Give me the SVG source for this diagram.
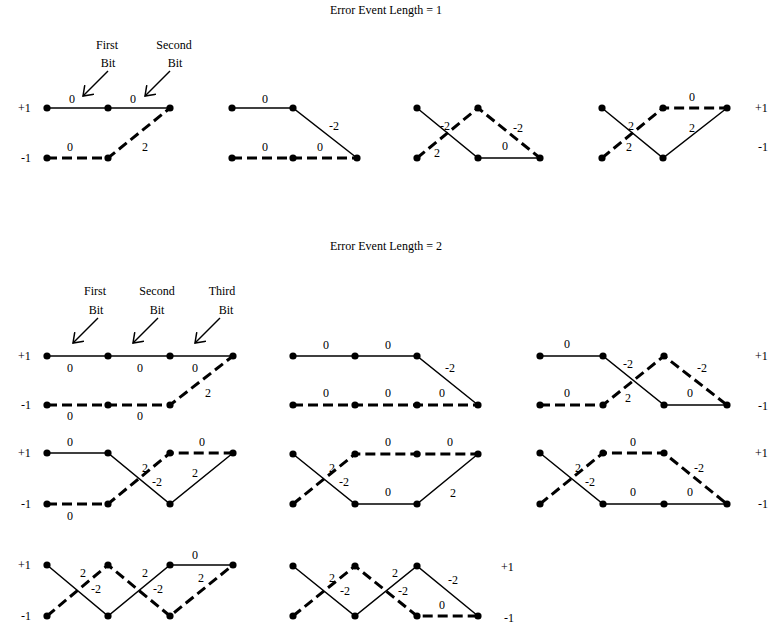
<svg xmlns="http://www.w3.org/2000/svg" width="773" height="630" viewBox="0 0 773 630">
  <style>
    text { font-family: "Liberation Serif", "Times New Roman", serif; font-size: 12px; fill: #000; }
    .c { text-anchor: middle; }
    .s { stroke: #000; stroke-width: 1.5; fill: none; }
    .d { stroke: #000; stroke-width: 3; stroke-dasharray: 10 5; fill: none; }
    .a { stroke: #000; stroke-width: 1.5; fill: none; marker-end: url(#head); }
    .n { fill: #000; }
  </style>
  <defs>
    <marker id="head" markerUnits="userSpaceOnUse" markerWidth="14" markerHeight="14" refX="0" refY="0" viewBox="-10 -7 12 14" orient="auto">
      <path d="M-9,-6.5 L0,0 L-9,6.5" stroke="#000" stroke-width="1.5" fill="none"/>
    </marker>
    <circle id="dot" r="3.6" class="n"/>
  </defs>
  <rect width="773" height="630" fill="#fff"/>

  <!-- ===== Error event length 1 ===== -->
  <text class="c" x="386" y="14">Error Event Length = 1</text>
  <g id="levels-top">
    <text x="18" y="112">+1</text>
    <text x="21" y="162">-1</text>
    <text x="755" y="112">+1</text>
    <text x="758" y="151">-1</text>
  </g>
  <g id="bit-markers-top">
    <text class="c" x="107" y="49">First</text>
    <text class="c" x="108" y="67">Bit</text>
    <text class="c" x="174" y="49">Second</text>
    <text class="c" x="175" y="67">Bit</text>
    <line class="a" x1="108" y1="71" x2="83" y2="96"/>
    <line class="a" x1="170" y1="71" x2="145" y2="96"/>
  </g>

  <g id="e1-a">
    <g class="connectors">
      <path class="s" d="M47,108 H170"/>
      <path class="d" d="M47,158 H108 L170,108"/>
    </g>
    <use href="#dot" x="47" y="108"/><use href="#dot" x="108" y="108"/><use href="#dot" x="170" y="108"/>
    <use href="#dot" x="47" y="158"/><use href="#dot" x="108" y="158"/>
    <text class="c" x="72" y="103">0</text><text class="c" x="133" y="103">0</text>
    <text class="c" x="70" y="151">0</text><text class="c" x="145" y="151">2</text>
  </g>

  <g id="e1-b">
    <g class="connectors">
      <path class="s" d="M232,108 H293 L357,158"/>
      <path class="d" d="M232,158 H357"/>
    </g>
    <use href="#dot" x="232" y="108"/><use href="#dot" x="293" y="108"/>
    <use href="#dot" x="232" y="158"/><use href="#dot" x="293" y="158"/><use href="#dot" x="357" y="158"/>
    <text class="c" x="265" y="103">0</text><text class="c" x="334" y="130">-2</text>
    <text class="c" x="265" y="151">0</text><text class="c" x="320" y="151">0</text>
  </g>

  <g id="e1-c">
    <g class="connectors">
      <path class="s" d="M417,108 L478,158 H540"/>
      <path class="d" d="M417,158 L478,108 L540,158"/>
    </g>
    <use href="#dot" x="417" y="108"/><use href="#dot" x="478" y="108"/>
    <use href="#dot" x="417" y="158"/><use href="#dot" x="478" y="158"/><use href="#dot" x="540" y="158"/>
    <text class="c" x="445" y="130">-2</text><text class="c" x="518" y="132">-2</text>
    <text class="c" x="437" y="157">2</text><text class="c" x="505" y="150">0</text>
  </g>

  <g id="e1-d">
    <g class="connectors">
      <path class="s" d="M602,108 L663,158 L727,108"/>
      <path class="d" d="M602,158 L663,108 H727"/>
    </g>
    <use href="#dot" x="602" y="108"/><use href="#dot" x="663" y="108"/><use href="#dot" x="727" y="108"/>
    <use href="#dot" x="602" y="158"/><use href="#dot" x="663" y="158"/>
    <text class="c" x="692" y="101">0</text><text class="c" x="631" y="130">2</text>
    <text class="c" x="692" y="132">2</text><text class="c" x="629" y="151">2</text>
  </g>

  <!-- ===== Error event length 2 ===== -->
  <text class="c" x="386" y="250">Error Event Length = 2</text>
  <g id="levels-bottom">
    <text x="18" y="360">+1</text><text x="21" y="409">-1</text>
    <text x="18" y="457">+1</text><text x="21" y="508">-1</text>
    <text x="18" y="569">+1</text><text x="21" y="620">-1</text>
    <text x="755" y="360">+1</text><text x="758" y="410">-1</text>
    <text x="755" y="457">+1</text><text x="758" y="508">-1</text>
    <text x="501" y="571">+1</text><text x="504" y="622">-1</text>
  </g>
  <g id="bit-markers-bottom">
    <text class="c" x="95" y="295">First</text><text class="c" x="96" y="314">Bit</text>
    <text class="c" x="157" y="295">Second</text><text class="c" x="157" y="314">Bit</text>
    <text class="c" x="222" y="295">Third</text><text class="c" x="226" y="314">Bit</text>
    <line class="a" x1="98" y1="318" x2="73" y2="343"/>
    <line class="a" x1="158" y1="318" x2="133" y2="343"/>
    <line class="a" x1="220" y1="318" x2="195" y2="343"/>
  </g>

  <g id="e2-a1">
    <g class="connectors">
      <path class="s" d="M47,356 H233"/>
      <path class="d" d="M47,405 H170 L233,356"/>
    </g>
    <use href="#dot" x="47" y="356"/><use href="#dot" x="108" y="356"/><use href="#dot" x="170" y="356"/><use href="#dot" x="233" y="356"/>
    <use href="#dot" x="47" y="405"/><use href="#dot" x="108" y="405"/><use href="#dot" x="170" y="405"/>
    <text class="c" x="70" y="372">0</text><text class="c" x="140" y="372">0</text><text class="c" x="195" y="372">0</text>
    <text class="c" x="208" y="397">2</text>
    <text class="c" x="70" y="420">0</text><text class="c" x="140" y="420">0</text>
  </g>

  <g id="e2-a2">
    <g class="connectors">
      <path class="s" d="M293,356 H417 L478,405"/>
      <path class="d" d="M293,405 H478"/>
    </g>
    <use href="#dot" x="293" y="356"/><use href="#dot" x="355" y="356"/><use href="#dot" x="417" y="356"/>
    <use href="#dot" x="293" y="405"/><use href="#dot" x="355" y="405"/><use href="#dot" x="417" y="405"/><use href="#dot" x="478" y="405"/>
    <text class="c" x="326" y="349">0</text><text class="c" x="388" y="349">0</text><text class="c" x="450" y="372">-2</text>
    <text class="c" x="326" y="397">0</text><text class="c" x="388" y="397">0</text><text class="c" x="442" y="397">0</text>
  </g>

  <g id="e2-a3">
    <g class="connectors">
      <path class="s" d="M540,356 H603 L664,405 H727"/>
      <path class="d" d="M540,405 H603 L664,356 L727,405"/>
    </g>
    <use href="#dot" x="540" y="356"/><use href="#dot" x="603" y="356"/><use href="#dot" x="664" y="356"/>
    <use href="#dot" x="540" y="405"/><use href="#dot" x="603" y="405"/><use href="#dot" x="664" y="405"/><use href="#dot" x="727" y="405"/>
    <text class="c" x="567" y="348">0</text><text class="c" x="628" y="368">-2</text><text class="c" x="702" y="372">-2</text>
    <text class="c" x="567" y="397">0</text><text class="c" x="628" y="402">2</text><text class="c" x="690" y="397">0</text>
  </g>

  <g id="e2-b1">
    <g class="connectors">
      <path class="s" d="M47,453 H108 L170,504 L233,453"/>
      <path class="d" d="M47,504 H108 L170,453 H233"/>
    </g>
    <use href="#dot" x="47" y="453"/><use href="#dot" x="108" y="453"/><use href="#dot" x="170" y="453"/><use href="#dot" x="233" y="453"/>
    <use href="#dot" x="47" y="504"/><use href="#dot" x="108" y="504"/><use href="#dot" x="170" y="504"/>
    <text class="c" x="70" y="446">0</text><text class="c" x="202" y="446">0</text>
    <text class="c" x="145" y="472">2</text><text class="c" x="157" y="486">-2</text>
    <text class="c" x="195" y="477">2</text><text class="c" x="70" y="520">0</text>
  </g>

  <g id="e2-b2">
    <g class="connectors">
      <path class="s" d="M293,454 L355,504 H417 L478,454"/>
      <path class="d" d="M293,504 L355,454 H478"/>
    </g>
    <use href="#dot" x="293" y="454"/><use href="#dot" x="355" y="454"/><use href="#dot" x="417" y="454"/><use href="#dot" x="478" y="454"/>
    <use href="#dot" x="293" y="504"/><use href="#dot" x="355" y="504"/><use href="#dot" x="417" y="504"/>
    <text class="c" x="388" y="446">0</text><text class="c" x="450" y="446">0</text>
    <text class="c" x="332" y="472">2</text><text class="c" x="344" y="486">-2</text>
    <text class="c" x="388" y="496">0</text><text class="c" x="453" y="497">2</text>
  </g>

  <g id="e2-b3">
    <g class="connectors">
      <path class="s" d="M540,453 L603,504 H727"/>
      <path class="d" d="M540,504 L603,453 H664 L727,504"/>
    </g>
    <use href="#dot" x="540" y="453"/><use href="#dot" x="603" y="453"/><use href="#dot" x="664" y="453"/>
    <use href="#dot" x="540" y="504"/><use href="#dot" x="603" y="504"/><use href="#dot" x="664" y="504"/><use href="#dot" x="727" y="504"/>
    <text class="c" x="633" y="446">0</text><text class="c" x="699" y="472">-2</text>
    <text class="c" x="578" y="472">2</text><text class="c" x="590" y="486">-2</text>
    <text class="c" x="633" y="496">0</text><text class="c" x="690" y="496">0</text>
  </g>

  <g id="e2-c1">
    <g class="connectors">
      <path class="s" d="M47,565 L108,616 L170,565 H233"/>
      <path class="d" d="M47,616 L108,565 L170,616 L233,565"/>
    </g>
    <use href="#dot" x="47" y="565"/><use href="#dot" x="108" y="565"/><use href="#dot" x="170" y="565"/><use href="#dot" x="233" y="565"/>
    <use href="#dot" x="47" y="616"/><use href="#dot" x="108" y="616"/><use href="#dot" x="170" y="616"/>
    <text class="c" x="195" y="559">0</text>
    <text class="c" x="83" y="577">2</text><text class="c" x="96" y="593">-2</text>
    <text class="c" x="145" y="577">2</text><text class="c" x="158" y="593">-2</text>
    <text class="c" x="201" y="582">2</text>
  </g>

  <g id="e2-c2">
    <g class="connectors">
      <path class="s" d="M293,566 L355,616 L417,566 L478,616"/>
      <path class="d" d="M293,616 L355,566 L417,616 H478"/>
    </g>
    <use href="#dot" x="293" y="566"/><use href="#dot" x="355" y="566"/><use href="#dot" x="417" y="566"/>
    <use href="#dot" x="293" y="616"/><use href="#dot" x="355" y="616"/><use href="#dot" x="417" y="616"/><use href="#dot" x="478" y="616"/>
    <text class="c" x="332" y="582">2</text><text class="c" x="345" y="595">-2</text>
    <text class="c" x="395" y="577">2</text><text class="c" x="403" y="595">-2</text>
    <text class="c" x="453" y="584">-2</text><text class="c" x="442" y="609">0</text>
  </g>
</svg>
